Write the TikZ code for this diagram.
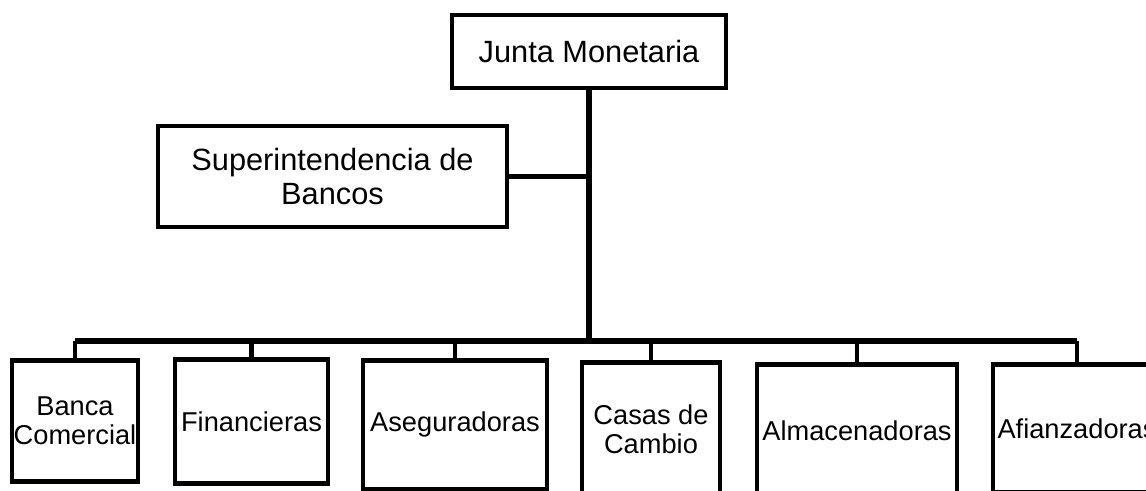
\documentclass[tikz,border=0pt]{standalone}
\usepackage{fontspec}
\setmainfont{Liberation Sans}

\tikzset{
  office/.style={draw, line width=2.7pt, align=center, inner sep=1pt},
  head/.style={office, font=\fontsize{17.5}{19.5}\selectfont},
  branch/.style={office, anchor=north, font=\fontsize{15.5}{16.5}\selectfont},
  wire/.style={line width=2.7pt},
  trunk/.style={line width=3.6pt},
}

\begin{document}
\begin{tikzpicture}
\useasboundingbox (0,0) rectangle (22.92,9.82);
\clip (0,0) rectangle (22.92,9.82);

\node[head, minimum width=5.48cm, minimum height=1.46cm] (junta) at (11.78,8.79) {Junta Monetaria};
\node[head, minimum width=6.98cm, minimum height=2.02cm] (sib) at (6.65,6.29) {Superintendencia de\\Bancos};

\node[branch, minimum width=2.52cm, minimum height=2.42cm] (banca) at (1.5,2.66) {Banca\\Comercial};
\node[branch, minimum width=3.06cm, minimum height=2.48cm] (fin) at (5.03,2.68) {Financieras};
\node[branch, minimum width=3.68cm, minimum height=2.58cm] (aseg) at (9.10,2.66) {Aseguradoras};
\node[branch, minimum width=2.76cm, minimum height=2.68cm] (casas) at (13.02,2.62) {Casas de\\Cambio};
\node[branch, minimum width=4.0cm, minimum height=2.64cm] (alma) at (17.14,2.58) {Almacenadoras};
\node[branch, minimum width=3.36cm, minimum height=2.56cm] (afian) at (21.54,2.58) {Afianzadoras};

\coordinate (bus) at (junta.south |- 0,3.0);

\draw[trunk] (junta.south) -- (bus);
\draw[wire] (sib.east) -- (sib.east -| junta.south);
\draw[trunk] (banca.north |- bus) -- (afian.north |- bus);

\draw[wire] (banca.north) -- (banca.north |- bus);
\draw[wire] (fin.north) -- (fin.north |- bus);
\draw[wire] (aseg.north) -- (aseg.north |- bus);
\draw[wire] (casas.north) -- (casas.north |- bus);
\draw[wire] (alma.north) -- (alma.north |- bus);
\draw[wire] (afian.north) -- (afian.north |- bus);

\end{tikzpicture}
\end{document}
